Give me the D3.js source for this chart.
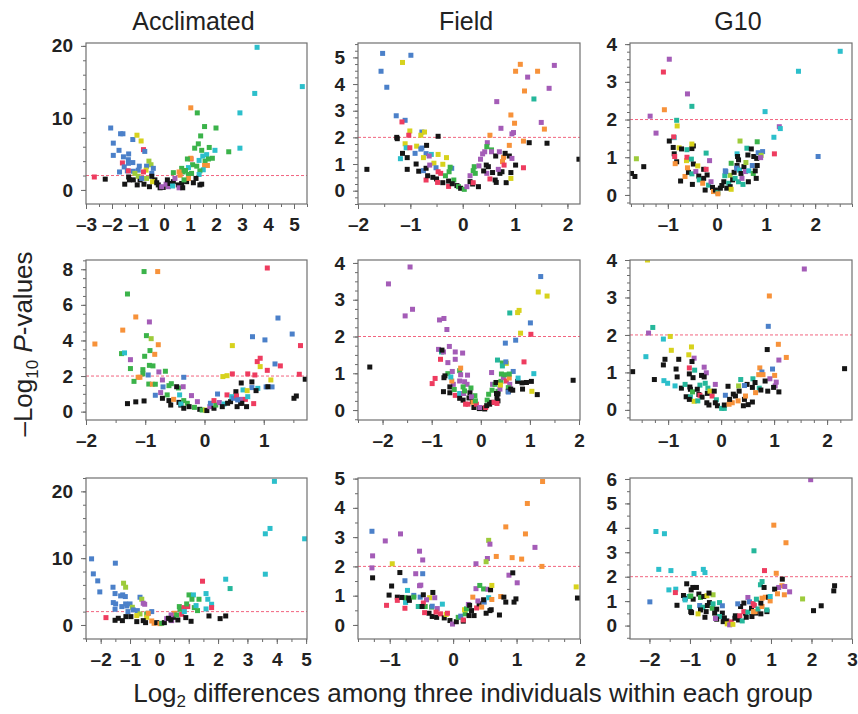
<!DOCTYPE html>
<html>
<head>
<meta charset="utf-8">
<script src="https://cdn.jsdelivr.net/npm/d3@7"></script>
<style>
  body { margin: 0; background: #fff; }
  text { font-family: "Liberation Sans", Arial, Helvetica, sans-serif; }
</style>
</head>
<body>
<script>
// column titles
const groups = ['Acclimated', 'Field', 'G10'];

// colour key for the points
const palette = {
  k: '#151515', b: '#4b80c9', g: '#3bb34a', o: '#f7923a', r: '#ee3c5f',
  c: '#2cbfcb', m: '#a45cb7', y: '#d7d21d', l: '#9dcb3b', t: '#25b79b'
};

// each point: [log2 difference, -log10 P, colour key]
const acclimated1 = [
  [3.58,19.8,'c'],[3.49,13.4,'c'],[2.92,10.7,'c'],[2.92,5.8,'c'],[5.32,14.35,'c'],[1.03,11.4,'o'],[1.28,10.7,'g'],
  [1.56,8.8,'g'],[2.0,8.6,'g'],[1.41,7.5,'g'],[1.32,6.4,'g'],[1.74,5.9,'g'],[1.18,5.8,'g'],[1.96,5.5,'c'],
  [1.45,5.5,'g'],[2.49,5.3,'g'],[1.64,4.9,'c'],[1.49,4.7,'c'],[1.04,4.3,'r'],[1.03,4.4,'o'],[0.9,4.3,'g'],
  [1.86,4.4,'g'],[1.71,4.3,'g'],[1.35,4.1,'c'],[1.58,4.0,'g'],[1.1,3.5,'g'],[1.67,3.4,'o'],[1.56,3.4,'o'],
  [1.26,3.3,'g'],[0.94,3.1,'c'],[0.68,3.0,'g'],[0.83,2.7,'g'],[1.51,2.8,'c'],[1.38,2.65,'g'],[0.74,2.5,'g'],
  [0.58,2.5,'o'],[1.06,2.3,'g'],[1.35,2.15,'c'],[0.94,2.15,'g'],[0.62,2.05,'o'],[0.36,2.4,'g'],
  [-2.05,8.6,'b'],[-1.67,7.8,'b'],[-1.58,7.8,'b'],[-1.95,6.5,'b'],[-1.2,7.0,'b'],[-1.04,7.6,'y'],[-0.88,6.8,'y'],
  [-1.73,5.5,'b'],[-0.79,5.6,'r'],[-0.74,5.35,'b'],[-1.95,4.8,'b'],[-1.36,5.0,'b'],[-1.56,4.6,'b'],[-1.37,4.2,'b'],
  [-1.2,3.8,'b'],[-1.6,3.75,'r'],[-1.37,3.7,'b'],[-0.58,4.0,'l'],[-0.5,3.5,'l'],[-0.67,3.3,'b'],[-1.53,3.2,'b'],
  [-1.71,2.5,'b'],[-1.41,2.65,'b'],[-1.37,2.65,'r'],[-1.18,2.6,'b'],[-0.99,2.75,'b'],[-0.69,2.75,'y'],[-0.95,3.3,'b'],
  [-0.41,3.0,'b'],[-1.12,2.3,'l'],[-0.79,2.5,'r'],[-0.47,2.3,'b'],[-2.68,1.8,'r'],[-2.26,1.5,'k'],[-1.51,0.8,'k'],
  [-1.36,1.8,'k'],[-1.33,1.4,'k'],[-1.18,1.4,'k'],[-1.03,0.7,'k'],[-0.92,1.4,'k'],[-0.77,0.8,'k'],[-0.56,0.45,'k'],
  [-0.47,1.9,'k'],[-0.35,1.4,'k'],[-0.44,1.15,'y'],[-0.67,1.6,'l'],[-0.99,1.9,'l'],[-0.86,1.6,'b'],[-0.22,0.7,'k'],
  [-0.15,0.3,'k'],[-0.03,0.35,'k'],[0.08,0.8,'m'],[0.17,0.45,'m'],[0.23,0.9,'k'],[0.36,1.15,'k'],[0.42,1.6,'m'],
  [0.55,0.7,'k'],[0.68,0.9,'k'],[0.58,0.3,'m'],[0.72,0.3,'k'],[0.87,1.15,'k'],[0.94,1.6,'o'],[1.13,1.0,'k'],
  [1.23,1.6,'k'],[1.38,0.7,'k'],[1.45,0.8,'k'],[0.77,1.4,'g'],[-0.09,0.45,'m'],[-0.28,1.0,'k'],[0.13,1.4,'k'],
  [0.33,0.55,'c']
];

const field1 = [
  [-1.53,5.15,'b'],[-0.99,5.08,'b'],[-1.15,4.81,'y'],[-1.56,4.48,'b'],[-1.45,3.88,'b'],[-1.27,2.81,'b'],[-1.1,2.64,'b'],
  [-1.16,2.58,'r'],[-1.01,2.24,'y'],[-0.78,2.2,'b'],[-0.73,2.2,'y'],[-0.8,2.08,'y'],[-1.03,2.08,'r'],[-1.26,2.0,'k'],
  [-1.25,1.95,'k'],[-0.47,2.04,'k'],[-1.1,1.76,'y'],[-1.08,1.61,'c'],[-1.01,1.61,'r'],[-0.88,1.67,'y'],[-0.78,1.6,'b'],
  [-0.69,1.7,'k'],[-0.8,1.56,'b'],[-0.91,1.4,'b'],[-0.7,1.39,'b'],[-0.6,1.36,'c'],[-0.47,1.36,'y'],[-0.64,1.3,'m'],
  [-1.15,1.4,'k'],[-1.06,1.24,'k'],[-0.75,1.24,'y'],[-0.31,1.24,'y'],[-1.19,1.2,'c'],[-0.89,1.0,'k'],[-0.55,1.03,'y'],
  [-0.38,0.99,'y'],[-1.06,0.8,'k'],[-1.83,0.8,'k'],[-0.84,0.73,'k'],[-0.75,0.75,'b'],[-0.7,0.84,'k'],[-0.63,0.96,'m'],
  [-0.51,0.86,'b'],[-0.21,0.84,'b'],[-0.24,0.88,'g'],[-0.26,0.71,'g'],[-0.47,0.71,'r'],[-0.42,0.65,'r'],[-0.7,0.4,'r'],
  [-0.67,0.56,'k'],[-0.57,0.5,'k'],[-0.5,0.44,'k'],[-0.48,0.31,'r'],[-0.38,0.3,'k'],[-0.33,0.56,'g'],[-0.27,0.36,'k'],
  [-0.27,0.16,'r'],[-0.17,0.4,'g'],[-0.2,0.26,'k'],[-0.11,0.19,'k'],[-0.08,0.15,'g'],[-0.04,0.09,'k'],[0.03,0.05,'g'],
  [0.08,0.15,'m'],[0.14,0.34,'k'],[0.22,0.9,'g'],[0.2,0.75,'g'],[0.14,0.56,'m'],[0.24,0.65,'g'],[0.19,0.25,'k'],
  [0.2,0.3,'r'],[0.3,0.15,'k'],[0.31,0.93,'m'],[0.34,1.18,'m'],[0.38,1.38,'m'],[0.42,1.46,'m'],[0.47,1.8,'m'],
  [0.46,1.65,'g'],[0.55,1.53,'g'],[0.55,1.46,'m'],[0.45,0.96,'k'],[0.49,0.9,'k'],[0.46,0.65,'m'],[0.4,0.74,'k'],
  [0.52,0.44,'r'],[0.57,0.68,'k'],[0.63,1.3,'k'],[0.62,0.4,'k'],[0.64,0.31,'k'],[0.71,0.65,'k'],[0.75,0.71,'k'],
  [0.7,1.46,'m'],[0.78,1.25,'o'],[0.76,1.09,'o'],[0.68,0.8,'m'],[0.79,0.96,'r'],[0.81,1.4,'k'],[0.89,1.3,'k'],
  [0.94,1.21,'m'],[0.83,0.3,'k'],[0.92,0.68,'k'],[0.92,0.46,'y'],[1.01,0.96,'k'],[1.16,0.86,'r'],[0.89,1.7,'o'],
  [1.16,1.86,'o'],[1.27,1.8,'k'],[1.61,1.78,'k'],[2.22,1.18,'k'],[0.52,2.08,'o'],[0.94,2.13,'m'],[0.97,2.18,'m'],
  [0.99,2.53,'o'],[0.92,2.84,'o'],[0.73,2.34,'m'],[0.65,3.34,'m'],[1.36,3.44,'t'],[1.18,3.74,'o'],[1.5,2.56,'m'],
  [1.56,2.31,'o'],[1.24,4.26,'m'],[1.01,4.48,'o'],[1.43,4.48,'o'],[1.1,4.74,'o'],[1.65,3.84,'m'],[1.75,4.7,'m']
];

const g10_1 = [
  [2.51,3.81,'c'],[1.66,3.28,'c'],[2.06,1.02,'b'],[0.98,2.21,'c'],[1.27,1.81,'m'],[1.29,1.76,'c'],[1.16,1.53,'c'],
  [1.17,1.09,'r'],[-0.97,3.6,'m'],[-1.09,3.26,'r'],[-0.6,2.68,'m'],[-1.07,2.26,'o'],[-0.51,2.35,'t'],[-1.36,2.09,'m'],
  [-0.82,1.98,'t'],[-0.81,1.83,'y'],[-1.24,1.64,'m'],[-0.87,1.52,'c'],[-0.88,1.54,'r'],[-0.97,1.43,'k'],[-1.64,0.96,'l'],
  [-1.49,0.75,'k'],[-1.74,0.57,'k'],[-1.67,0.49,'k'],[-0.89,1.26,'k'],[-0.77,1.25,'y'],[-0.72,1.22,'k'],[-0.61,1.2,'t'],
  [-0.51,1.23,'k'],[-0.48,1.3,'k'],[-0.51,1.35,'y'],[-0.87,1.09,'k'],[-0.86,1.02,'r'],[-0.82,0.88,'k'],[-0.85,0.83,'o'],
  [-0.62,0.91,'y'],[-0.61,1.0,'r'],[-0.52,0.95,'t'],[-0.48,0.82,'k'],[-0.39,0.77,'y'],[-0.15,0.91,'m'],[-0.22,1.11,'t'],
  [-0.74,0.37,'k'],[-0.65,0.49,'o'],[-0.58,0.6,'k'],[-0.6,0.72,'o'],[-0.51,0.56,'t'],[-0.5,0.28,'k'],[-0.43,0.62,'m'],
  [-0.37,0.5,'k'],[-0.36,0.4,'t'],[-0.27,0.68,'k'],[-0.27,0.44,'k'],[-0.22,0.68,'r'],[-0.2,0.53,'k'],[-0.29,0.31,'o'],
  [-0.24,0.13,'k'],[-0.17,0.26,'t'],[-0.12,0.35,'m'],[-0.09,0.2,'k'],[-0.07,0.09,'o'],[-0.03,0.13,'k'],[0.02,0.06,'t'],
  [0.02,0.03,'o'],[0.07,0.18,'k'],[0.1,0.25,'k'],[0.14,0.35,'k'],[0.16,0.51,'t'],[0.17,0.64,'b'],[0.2,0.18,'k'],
  [0.24,0.31,'t'],[0.27,0.22,'k'],[0.29,0.15,'y'],[0.27,0.52,'l'],[0.29,0.84,'g'],[0.32,0.4,'k'],[0.35,0.6,'k'],
  [0.37,0.44,'t'],[0.41,1.09,'c'],[0.42,1.02,'k'],[0.44,0.93,'k'],[0.41,0.78,'k'],[0.4,0.71,'b'],[0.46,0.66,'c'],
  [0.49,0.57,'k'],[0.47,1.43,'l'],[0.44,0.35,'t'],[0.51,0.44,'m'],[0.55,0.75,'k'],[0.53,0.28,'t'],[0.59,0.86,'l'],
  [0.58,0.62,'m'],[0.61,1.24,'t'],[0.63,1.06,'k'],[0.64,0.35,'k'],[0.65,0.64,'c'],[0.7,1.22,'k'],[0.72,0.78,'b'],
  [0.75,1.02,'k'],[0.74,0.57,'g'],[0.78,0.64,'k'],[0.8,0.44,'k'],[0.82,0.78,'k'],[0.82,1.41,'g'],[0.84,1.12,'b'],
  [0.81,0.97,'k'],[0.93,1.15,'b'],[0.9,1.05,'l'],[0.89,0.99,'m'],[0.18,0.62,'b']
];

const acclimated2 = [
  [1.06,8.07,'r'],[-1.02,7.87,'g'],[-0.79,7.87,'o'],[-1.3,6.61,'g'],[-1.16,5.32,'o'],[-0.93,5.04,'m'],[1.24,5.26,'b'],
  [-1.38,4.58,'o'],[1.48,4.36,'b'],[-0.98,4.27,'g'],[-0.9,4.1,'l'],[0.81,4.21,'b'],[1.02,4.03,'b'],[-1.85,3.8,'o'],
  [-0.78,3.76,'o'],[0.47,3.71,'y'],[1.62,3.71,'r'],[-0.92,3.43,'g'],[-1.4,3.26,'g'],[-1.35,3.3,'c'],[-0.84,3.22,'o'],
  [-1.01,3.11,'g'],[-1.25,2.92,'m'],[0.94,3.0,'r'],[0.89,2.81,'r'],[-0.93,2.6,'g'],[-0.87,2.57,'g'],[1.19,2.68,'b'],
  [1.28,2.57,'r'],[-1.25,2.42,'g'],[0.94,2.53,'y'],[-1.04,2.36,'g'],[-0.77,2.23,'m'],[-0.66,2.27,'g'],[1.06,2.32,'r'],
  [-1.04,2.12,'g'],[-0.95,2.06,'b'],[0.47,2.12,'r'],[0.73,2.12,'r'],[0.85,2.06,'r'],[1.6,2.1,'r'],[0.31,1.97,'y'],
  [0.38,2.02,'y'],[-1.12,1.93,'o'],[-1.09,1.93,'o'],[-0.35,1.93,'b'],[1.12,1.78,'y'],[-1.19,1.7,'g'],[-0.94,1.55,'g'],
  [-0.88,1.54,'o'],[-0.83,1.54,'g'],[-0.71,1.78,'m'],[-0.56,1.57,'g'],[0.62,1.61,'k'],[0.8,1.67,'k'],[-0.44,1.33,'g'],
  [-0.36,1.4,'m'],[-0.7,1.39,'b'],[-0.6,1.46,'g'],[1.04,1.39,'b'],[1.14,1.39,'b'],[0.9,1.31,'c'],[0.8,1.35,'b'],
  [-0.47,1.4,'k'],[1.07,1.4,'k'],[0.87,1.18,'k'],[-0.83,0.92,'b'],[-0.74,1.07,'m'],[-0.63,0.94,'g'],[-0.71,0.75,'k'],
  [-0.42,0.94,'c'],[-0.22,0.9,'m'],[-0.6,0.62,'k'],[-0.52,0.69,'o'],[-0.57,0.37,'k'],[-0.43,0.52,'k'],[-0.35,0.62,'g'],
  [-0.4,0.37,'k'],[-0.4,0.43,'c'],[-0.35,0.19,'k'],[-0.29,0.47,'g'],[-0.26,0.28,'k'],[-0.17,0.24,'g'],[-0.12,0.56,'m'],
  [-0.08,0.13,'k'],[-0.04,0.09,'g'],[0.02,0.09,'y'],[0.04,0.06,'k'],[0.09,0.28,'m'],[0.1,0.47,'b'],[0.16,0.19,'k'],
  [0.19,0.37,'g'],[0.16,0.62,'r'],[0.25,0.51,'m'],[0.22,0.99,'b'],[0.33,0.43,'c'],[0.3,0.28,'k'],[0.38,0.94,'r'],
  [0.39,0.47,'k'],[0.44,0.56,'k'],[0.46,0.84,'c'],[0.49,0.75,'b'],[0.53,1.12,'k'],[0.54,0.88,'r'],[0.55,0.28,'k'],
  [0.61,0.47,'k'],[0.61,0.69,'m'],[0.65,1.22,'c'],[0.69,0.69,'r'],[0.71,0.28,'k'],[0.72,1.18,'y'],[0.73,0.84,'c'],
  [0.83,0.45,'r'],[1.51,0.75,'k'],[1.55,0.88,'k'],[0.63,0.47,'k'],[0.56,0.66,'b'],[1.7,1.82,'k'],[-1.3,0.45,'k'],
  [-1.16,0.55,'k'],[-1.02,0.6,'k']
];

const field2 = [
  [-1.44,3.89,'m'],[-1.88,3.43,'m'],[-1.39,2.74,'m'],[-1.54,2.56,'m'],[-0.84,2.45,'m'],[-0.75,2.49,'m'],[-0.69,2.19,'m'],
  [1.22,3.63,'b'],[1.17,3.21,'y'],[1.35,3.1,'y'],[0.78,2.71,'y'],[0.75,2.65,'y'],[0.59,2.64,'t'],[1.01,2.37,'b'],
  [0.81,2.09,'y'],[1.02,2.06,'r'],[0.5,1.82,'b'],[0.71,1.9,'b'],[-2.26,1.17,'k'],[1.88,0.81,'k'],[-0.86,1.65,'m'],
  [-0.8,1.58,'t'],[-0.76,1.58,'m'],[-0.79,1.63,'k'],[-0.64,1.73,'m'],[-0.52,1.58,'m'],[-0.37,1.55,'m'],[-0.82,1.38,'r'],
  [-0.52,1.38,'m'],[-0.67,1.29,'m'],[0.34,1.36,'t'],[0.44,1.28,'g'],[0.52,1.27,'y'],[0.44,1.2,'t'],[0.51,1.31,'b'],
  [0.88,1.31,'r'],[0.66,1.05,'b'],[1.08,0.99,'c'],[0.22,1.02,'m'],[0.93,0.75,'k'],[0.84,0.74,'k'],[1.03,0.78,'k'],
  [1.15,0.42,'k'],[0.85,0.57,'k'],[1.04,0.51,'y'],[-0.93,0.86,'r'],[-0.99,0.72,'r'],[-0.67,0.99,'g'],[-0.73,0.93,'k'],
  [-0.75,0.88,'k'],[-0.76,0.5,'k'],[-0.63,0.47,'k'],[-0.56,0.7,'m'],[-0.58,1.05,'m'],[-0.59,0.79,'o'],[-0.61,0.9,'c'],
  [-0.43,1.07,'g'],[-0.41,1.14,'o'],[-0.41,0.96,'m'],[-0.27,0.95,'m'],[-0.63,0.63,'k'],[-0.54,0.56,'g'],[-0.52,0.4,'r'],
  [-0.43,0.79,'m'],[-0.33,0.77,'m'],[-0.28,0.7,'m'],[-0.36,0.63,'g'],[-0.2,0.6,'g'],[-0.43,0.45,'c'],[-0.43,0.32,'k'],
  [-0.35,0.45,'m'],[-0.33,0.52,'g'],[-0.36,0.27,'k'],[-0.24,0.33,'k'],[-0.31,0.16,'r'],[-0.26,0.16,'r'],[-0.22,0.47,'k'],
  [-0.17,0.23,'k'],[-0.12,0.39,'g'],[-0.19,0.36,'m'],[-0.16,0.21,'o'],[-0.14,0.07,'k'],[-0.09,0.16,'r'],[-0.11,0.25,'g'],
  [-0.03,0.04,'k'],[0.03,0.05,'k'],[-0.02,0.07,'m'],[0.08,0.03,'k'],[0.1,0.07,'r'],[0.12,0.12,'k'],[0.13,0.27,'g'],
  [0.18,0.16,'k'],[0.16,0.43,'g'],[0.22,0.21,'k'],[0.27,0.21,'r'],[0.23,0.54,'g'],[0.24,0.7,'m'],[0.29,0.7,'g'],
  [0.32,0.75,'o'],[0.31,0.75,'k'],[0.35,0.51,'g'],[0.33,0.34,'k'],[0.35,0.25,'k'],[0.33,0.18,'r'],[0.39,0.57,'m'],
  [0.41,0.78,'g'],[0.4,0.68,'y'],[0.35,0.44,'k'],[0.46,0.88,'m'],[0.49,0.96,'g'],[0.42,0.98,'g'],[0.52,0.79,'r'],
  [0.58,0.87,'o'],[0.59,0.7,'m'],[0.56,0.61,'g'],[0.56,0.51,'k'],[0.56,0.49,'b'],[0.61,0.57,'k'],[0.65,0.54,'k'],
  [0.58,0.98,'g'],[0.75,0.78,'k'],[0.76,0.87,'c'],[0.32,0.45,'k']
];

const g10_2 = [
  [-1.39,4.0,'y'],[1.57,3.76,'m'],[0.91,3.04,'o'],[0.89,2.23,'b'],[-1.29,2.2,'t'],[-1.37,2.05,'m'],[-0.96,1.96,'y'],
  [-1.09,1.89,'c'],[1.08,1.75,'o'],[-0.94,1.59,'y'],[-0.56,1.68,'y'],[0.87,1.61,'k'],[-0.61,1.47,'y'],[-1.42,1.42,'c'],
  [1.23,1.4,'o'],[-0.51,1.38,'m'],[-1.06,1.35,'k'],[-0.8,1.35,'k'],[1.09,1.33,'m'],[-0.55,1.29,'k'],[-1.09,1.2,'k'],
  [-1.67,1.02,'k'],[2.33,1.1,'k'],[-0.6,1.12,'r'],[-0.32,1.14,'m'],[0.73,1.12,'o'],[-0.85,1.09,'k'],[-0.5,1.06,'t'],
  [-0.28,0.99,'m'],[0.97,1.09,'b'],[0.77,1.01,'b'],[0.79,0.94,'o'],[0.71,0.94,'o'],[1.01,0.92,'o'],[-0.6,0.96,'k'],
  [-0.37,0.92,'k'],[-0.32,0.88,'k'],[-0.83,0.88,'k'],[-0.53,0.86,'k'],[-1.26,0.81,'k'],[-1.08,0.78,'c'],[-1.01,0.71,'c'],
  [0.37,0.81,'t'],[0.92,0.83,'m'],[1.04,0.74,'m'],[0.83,0.77,'k'],[-0.87,0.64,'c'],[-0.75,0.58,'k'],[-0.68,0.68,'t'],
  [-0.4,0.66,'t'],[-0.11,0.68,'m'],[-0.3,0.71,'t'],[0.13,0.63,'k'],[0.33,0.64,'l'],[-0.59,0.61,'k'],[-0.58,0.55,'k'],
  [0.6,0.83,'t'],[-0.25,0.58,'t'],[1.02,0.64,'m'],[0.99,0.6,'k'],[1.09,0.48,'k'],[0.49,0.68,'k'],[0.44,0.65,'b'],
  [0.64,0.73,'k'],[0.59,0.6,'k'],[0.72,0.58,'t'],[0.75,0.53,'k'],[0.88,0.5,'k'],[-0.66,0.35,'k'],[-0.42,0.41,'k'],
  [-0.58,0.35,'t'],[-0.4,0.39,'r'],[-0.36,0.34,'k'],[-0.26,0.44,'k'],[-0.21,0.5,'y'],[-0.17,0.37,'r'],[-0.13,0.5,'k'],
  [-0.51,0.23,'y'],[-0.27,0.19,'k'],[-0.23,0.13,'k'],[-0.09,0.27,'t'],[-0.07,0.11,'k'],[0.01,0.04,'t'],[0.06,0.04,'t'],
  [0.06,0.13,'k'],[0.15,0.15,'o'],[0.08,0.39,'b'],[0.23,0.42,'k'],[0.27,0.37,'k'],[0.32,0.24,'o'],[0.34,0.5,'k'],
  [0.42,0.11,'k'],[0.51,0.14,'k'],[0.59,0.21,'k'],[0.21,0.19,'o'],[0.16,0.28,'k'],[0.44,0.28,'k'],[0.65,0.46,'o'],
  [0.46,0.37,'o'],[-0.6,0.28,'k'],[-0.44,0.24,'t'],[-0.54,0.48,'g'],[-0.45,0.55,'k'],[-0.11,0.19,'k']
];

const acclimated3 = [
  [3.92,21.5,'c'],[3.77,14.45,'c'],[3.61,13.65,'c'],[3.61,7.6,'c'],[2.26,6.85,'c'],[2.41,5.45,'t'],[4.95,12.9,'c'],
  [1.47,6.55,'r'],[-2.31,9.9,'b'],[-1.5,9.25,'b'],[-2.25,7.65,'b'],[-2.1,6.6,'b'],[-2.03,4.95,'b'],[-1.58,5.65,'b'],
  [-1.51,4.7,'b'],[-1.57,3.35,'b'],[-1.49,3.15,'b'],[-1.32,4.35,'b'],[-1.25,4.5,'b'],[-1.16,4.25,'b'],[-1.15,3.15,'b'],
  [-1.0,3.15,'b'],[-1.11,2.85,'b'],[-1.51,2.35,'b'],[-1.28,2.75,'b'],[-0.66,4.15,'b'],[-1.22,6.25,'l'],[-1.15,5.65,'l'],
  [-0.6,3.85,'l'],[-0.92,2.65,'l'],[-0.55,3.25,'m'],[-0.5,3.1,'m'],[-1.82,1.1,'r'],[-1.07,2.0,'b'],[-0.89,2.25,'b'],
  [-0.75,2.15,'b'],[-0.26,2.0,'b'],[-0.38,1.75,'b'],[-0.66,1.65,'l'],[-0.43,1.65,'g'],[-0.77,1.4,'y'],[-0.43,1.15,'y'],
  [-0.38,1.75,'o'],[-1.51,0.7,'k'],[-1.4,1.0,'k'],[-1.26,0.65,'k'],[-1.14,1.25,'k'],[-0.97,1.25,'k'],[-0.77,0.5,'k'],
  [-0.55,0.65,'k'],[-0.47,0.35,'k'],[-0.26,0.6,'o'],[-0.18,0.25,'o'],[-0.09,0.35,'k'],[0.02,0.2,'o'],[0.08,0.25,'g'],
  [0.17,0.35,'k'],[0.25,0.95,'m'],[0.42,0.65,'m'],[0.48,1.15,'k'],[0.51,1.75,'o'],[0.63,0.75,'k'],[0.59,1.5,'g'],
  [0.4,1.5,'m'],[0.76,1.6,'r'],[0.68,2.75,'g'],[0.7,2.35,'g'],[0.84,2.6,'r'],[0.85,2.0,'c'],[0.9,1.1,'k'],
  [1.08,0.55,'k'],[0.97,2.75,'r'],[0.93,3.15,'g'],[1.01,4.5,'g'],[1.16,4.5,'c'],[1.11,3.85,'g'],[1.19,2.6,'g'],
  [1.3,2.15,'g'],[1.35,3.85,'g'],[1.25,2.9,'c'],[1.59,4.7,'c'],[1.65,3.85,'c'],[1.59,2.4,'c'],[1.78,3.1,'c'],
  [1.78,2.6,'r'],[1.69,1.35,'k'],[2.07,0.95,'k'],[2.26,1.35,'k'],[0.31,1.0,'k'],[0.39,0.75,'k']
];

const field3 = [
  [1.41,4.9,'o'],[1.17,4.15,'o'],[0.83,3.35,'o'],[1.14,3.11,'o'],[1.29,2.65,'m'],[0.56,2.89,'l'],[0.58,2.76,'m'],
  [0.68,2.34,'o'],[0.54,2.27,'m'],[0.52,2.16,'l'],[0.93,2.3,'o'],[1.08,2.25,'o'],[1.4,2.0,'o'],[0.36,2.09,'m'],
  [-1.28,3.2,'b'],[-1.07,2.87,'m'],[-0.83,3.11,'m'],[-1.27,2.36,'m'],[-1.28,1.95,'m'],[-0.96,2.09,'y'],[-0.53,2.52,'m'],
  [-0.48,2.22,'m'],[-1.27,1.61,'k'],[-0.84,1.79,'k'],[-0.59,1.75,'m'],[-0.48,1.75,'b'],[-0.76,1.51,'b'],[-0.53,1.34,'m'],
  [-0.51,1.36,'m'],[-0.72,1.18,'c'],[-0.97,1.33,'k'],[-1.01,1.02,'k'],[-0.88,0.95,'k'],[-1.05,0.67,'r'],[-0.88,0.84,'r'],
  [-0.81,0.94,'m'],[-0.75,0.77,'c'],[-0.76,0.57,'r'],[-0.76,0.93,'g'],[-0.81,0.94,'k'],[-0.7,0.92,'k'],[-0.62,1.01,'b'],
  [-0.69,0.84,'k'],[-0.62,0.95,'g'],[-0.55,0.63,'t'],[-0.52,0.95,'b'],[-0.47,1.03,'k'],[-0.37,0.93,'y'],[-0.42,0.86,'m'],
  [-0.44,0.63,'g'],[-0.47,0.75,'r'],[-0.49,0.63,'k'],[-0.32,1.11,'k'],[-0.29,0.93,'m'],[-0.17,0.71,'c'],[-0.34,0.61,'g'],
  [-0.33,0.64,'b'],[-0.25,0.56,'m'],[-0.38,0.4,'k'],[-0.45,0.42,'r'],[-0.33,0.29,'k'],[-0.26,0.26,'k'],[-0.2,0.38,'r'],
  [-0.27,0.44,'r'],[-0.14,0.24,'k'],[-0.11,0.36,'y'],[-0.09,0.4,'r'],[-0.05,0.15,'k'],[-0.01,0.03,'m'],[0.05,0.11,'k'],
  [0.08,0.26,'g'],[0.16,0.13,'k'],[0.12,0.3,'b'],[0.16,0.17,'r'],[0.19,0.38,'g'],[0.18,0.52,'y'],[0.25,0.32,'k'],
  [0.29,0.49,'k'],[0.21,0.55,'g'],[0.24,0.7,'m'],[0.26,0.67,'k'],[0.31,0.95,'o'],[0.33,0.32,'k'],[0.37,0.58,'r'],
  [0.36,1.24,'m'],[0.42,1.35,'g'],[0.48,1.23,'g'],[0.41,0.72,'k'],[0.49,0.78,'b'],[0.48,0.86,'k'],[0.52,0.4,'k'],
  [0.39,0.82,'m'],[0.45,0.61,'o'],[0.55,1.22,'m'],[0.56,0.93,'c'],[0.59,1.2,'k'],[0.61,1.35,'y'],[0.58,0.49,'k'],
  [0.6,0.52,'k'],[0.61,0.87,'o'],[0.73,0.34,'k'],[0.75,0.97,'o'],[0.8,0.95,'k'],[0.83,0.78,'k'],[0.88,1.7,'m'],
  [0.94,1.78,'k'],[1.01,1.44,'m'],[0.96,0.78,'k'],[0.99,0.89,'k'],[1.94,1.3,'y'],[1.96,0.92,'k']
];

const g10_3 = [
  [1.98,5.97,'m'],[1.07,4.11,'o'],[1.37,3.39,'o'],[0.58,3.06,'t'],[-1.84,3.85,'c'],[-1.63,3.76,'c'],[-1.77,2.3,'c'],
  [-1.47,2.25,'c'],[-0.9,2.13,'c'],[-0.67,2.3,'c'],[-0.63,2.17,'c'],[0.84,2.25,'r'],[1.13,2.14,'o'],[1.28,1.9,'k'],
  [0.78,1.8,'t'],[0.74,1.67,'t'],[0.83,1.56,'k'],[1.27,1.63,'o'],[1.19,1.56,'m'],[1.34,1.6,'m'],[1.09,1.49,'k'],
  [1.46,1.38,'m'],[1.33,1.26,'o'],[1.16,1.3,'o'],[1.78,1.09,'l'],[2.05,0.61,'k'],[2.24,0.81,'k'],[2.57,1.63,'k'],
  [2.55,1.42,'k'],[-1.99,0.97,'b'],[-1.52,1.46,'c'],[-1.35,1.49,'c'],[-1.36,1.35,'r'],[-1.08,1.71,'k'],[-0.97,1.46,'k'],
  [-0.93,1.56,'k'],[-0.84,1.56,'k'],[-1.16,1.23,'k'],[-1.12,1.11,'k'],[-1.02,1.19,'t'],[-0.92,1.08,'k'],[-1.32,0.83,'k'],
  [-1.12,1.05,'c'],[-0.98,1.21,'g'],[-0.78,1.29,'k'],[-0.74,1.15,'g'],[-0.66,1.19,'k'],[-0.58,1.22,'y'],[-0.43,1.26,'l'],
  [-0.53,1.33,'k'],[-1.01,0.75,'t'],[-0.98,0.57,'k'],[-0.96,0.53,'k'],[-0.76,0.82,'b'],[-0.68,0.75,'t'],[-0.74,0.64,'k'],
  [-0.57,0.82,'k'],[-0.52,0.94,'k'],[-0.27,0.94,'t'],[-0.2,0.81,'b'],[-0.8,0.48,'y'],[-0.63,0.34,'k'],[-0.6,0.57,'k'],
  [-0.45,0.71,'g'],[-0.39,0.51,'k'],[-0.43,0.89,'t'],[-0.34,0.67,'k'],[-0.2,0.51,'k'],[-0.27,0.37,'t'],[-0.34,0.26,'k'],
  [-0.37,0.29,'m'],[-0.15,0.31,'k'],[-0.18,0.16,'k'],[-0.09,0.19,'k'],[-0.08,0.07,'y'],[0.02,0.15,'r'],[-0.02,0.03,'m'],
  [0.06,0.05,'y'],[0.11,0.3,'k'],[0.12,0.4,'k'],[0.2,0.23,'k'],[0.23,0.4,'r'],[0.25,0.78,'k'],[0.18,0.89,'b'],
  [0.29,0.19,'t'],[0.33,0.92,'k'],[0.37,0.51,'k'],[0.39,0.34,'k'],[0.33,0.57,'r'],[0.43,0.55,'t'],[0.43,1.15,'m'],
  [0.47,0.97,'b'],[0.52,0.71,'k'],[0.53,0.37,'k'],[0.56,0.9,'r'],[0.59,0.82,'r'],[0.64,1.08,'t'],[0.63,0.51,'k'],
  [0.57,0.57,'o'],[0.61,0.57,'o'],[0.68,0.68,'t'],[0.78,0.78,'o'],[0.75,0.92,'k'],[0.75,0.48,'k'],[0.78,1.12,'o'],
  [0.86,1.16,'o'],[0.9,0.57,'k'],[0.9,0.64,'t'],[0.94,1.16,'k'],[0.98,1.01,'o'],[0.98,1.19,'c']
];

// axis domains and tick values, row by row
const xDomains = [[-3, 5.5], [-2, 2.24], [-1.77, 2.75], [-2.0, 1.73], [-2.5, 2.02], [-1.72, 2.47], [-2.5, 5.03], [-1.5, 2.0], [-2.48, 3.0]];
const yDomains = [[-1.95, 20.4], [-0.5, 5.54], [-0.24, 4.03], [-0.47, 8.52], [-0.27, 4.08], [-0.27, 4.0], [-2.1, 22.0], [-0.48, 5.02], [-0.55, 6.04]];
const xTicks = [[-3,-2,-1,0,1,2,3,4,5], [-2,-1,0,1,2], [-1,0,1,2], [-2,-1,0,1], [-2,-1,0,1,2], [-1,0,1,2], [-2,-1,0,1,2,3,4,5], [-1,0,1,2], [-2,-1,0,1,2,3]];
const yTicks = [[0,10,20], [0,1,2,3,4,5], [0,1,2,3,4], [0,2,4,6,8], [0,1,2,3,4], [0,1,2,3,4], [0,10,20], [0,1,2,3,4,5], [0,1,2,3,4,5,6]];
const xMinor = [0.5, 0.5, 0.25, 0.5, 0.5, 0.25, 0.5, 0.25, 0.5];
const yMinor = [2, 0.25, 0.2, 0.5, 0.25, 0.2, 2, 0.5, 0.5];
const threshold = 2;

const datasets = [acclimated1, field1, g10_1, acclimated2, field2, g10_2, acclimated3, field3, g10_3];

const width = 858, height = 714;
const cols = [[86, 307], [358, 580], [630, 852]];
const rows = [[43, 204], [260, 420], [478, 639]];

const svg = d3.select('body').append('svg')
  .attr('width', width)
  .attr('height', height);

const fmt = d => d < 0 ? '\u2013' + (-d) : String(d);

function minorTicks(dom, step) {
  const out = [];
  for (let v = Math.ceil(dom[0] / step) * step; v <= dom[1] + 1e-9; v += step) out.push(+v.toFixed(4));
  return out;
}

datasets.forEach((pts, i) => {
  const [x0, x1] = cols[i % 3];
  const [y0, y1] = rows[Math.floor(i / 3)];
  const x = d3.scaleLinear().domain(xDomains[i]).range([x0, x1]);
  const y = d3.scaleLinear().domain(yDomains[i]).range([y1, y0]);

  const g = svg.append('g');

  g.append('clipPath').attr('id', 'clip' + i)
    .append('rect').attr('x', x0).attr('y', y0).attr('width', x1 - x0).attr('height', y1 - y0);

  // significance line
  g.append('line')
    .attr('x1', x0).attr('x2', x1)
    .attr('y1', y(threshold)).attr('y2', y(threshold))
    .attr('stroke', '#f2647f')
    .attr('stroke-width', 1)
    .attr('stroke-dasharray', '3,2');

  g.append('g').attr('clip-path', `url(#clip${i})`)
    .selectAll('rect')
    .data(pts)
    .enter()
    .append('rect')
    .attr('x', d => x(d[0]) - 2.5)
    .attr('y', d => y(d[1]) - 2.5)
    .attr('width', 5)
    .attr('height', 5)
    .attr('fill', d => palette[d[2]]);

  // minor ticks
  g.append('g').attr('transform', `translate(0,${y1})`)
    .call(d3.axisBottom(x).tickValues(minorTicks(xDomains[i], xMinor[i])).tickSize(3).tickFormat(''));
  g.append('g').attr('transform', `translate(${x0},0)`)
    .call(d3.axisLeft(y).tickValues(minorTicks(yDomains[i], yMinor[i])).tickSize(3).tickFormat(''));

  // major ticks and labels
  g.append('g').attr('class', 'major').attr('transform', `translate(0,${y1})`)
    .call(d3.axisBottom(x).tickValues(xTicks[i]).tickSize(5).tickPadding(9).tickFormat(fmt));
  g.append('g').attr('class', 'major').attr('transform', `translate(${x0},0)`)
    .call(d3.axisLeft(y).tickValues(yTicks[i]).tickSize(5).tickPadding(8).tickFormat(fmt));

  g.selectAll('.domain').remove();
  g.selectAll('.tick line').attr('stroke', '#6a6a6a');
  g.selectAll('.major text')
    .attr('font-size', 19)
    .attr('font-weight', 'bold')
    .attr('fill', '#222')
    .style('font-family', '"Liberation Sans", Arial, sans-serif');

  g.append('rect')
    .attr('x', x0).attr('y', y0)
    .attr('width', x1 - x0).attr('height', y1 - y0)
    .attr('fill', 'none')
    .attr('stroke', '#707070')
    .attr('stroke-width', 1.2);
});

// column titles
svg.selectAll('text.title')
  .data(groups)
  .enter()
  .append('text')
  .attr('class', 'title')
  .attr('x', (d, i) => (cols[i][0] + cols[i][1]) / 2 - 3)
  .attr('y', 30)
  .attr('text-anchor', 'middle')
  .attr('font-size', 25)
  .attr('fill', '#222')
  .text(d => d);

// y axis label
const yl = svg.append('text')
  .attr('transform', 'translate(32,344) rotate(-90)')
  .attr('text-anchor', 'middle')
  .attr('font-size', 26)
  .attr('fill', '#222');
yl.append('tspan').text('\u2013Log');
yl.append('tspan').attr('font-size', 17).attr('dy', 6).text('10');
yl.append('tspan').attr('dy', -6).text(' ');
yl.append('tspan').attr('font-style', 'italic').text('P');
yl.append('tspan').text('-values');

// x axis label
const xl = svg.append('text')
  .attr('x', 473)
  .attr('y', 702)
  .attr('text-anchor', 'middle')
  .attr('font-size', 26)
  .attr('fill', '#222');
xl.append('tspan').text('Log');
xl.append('tspan').attr('font-size', 17).attr('dy', 5).text('2');
xl.append('tspan').attr('dy', -5).text(' differences among three individuals within each group');
</script>
</body>
</html>
